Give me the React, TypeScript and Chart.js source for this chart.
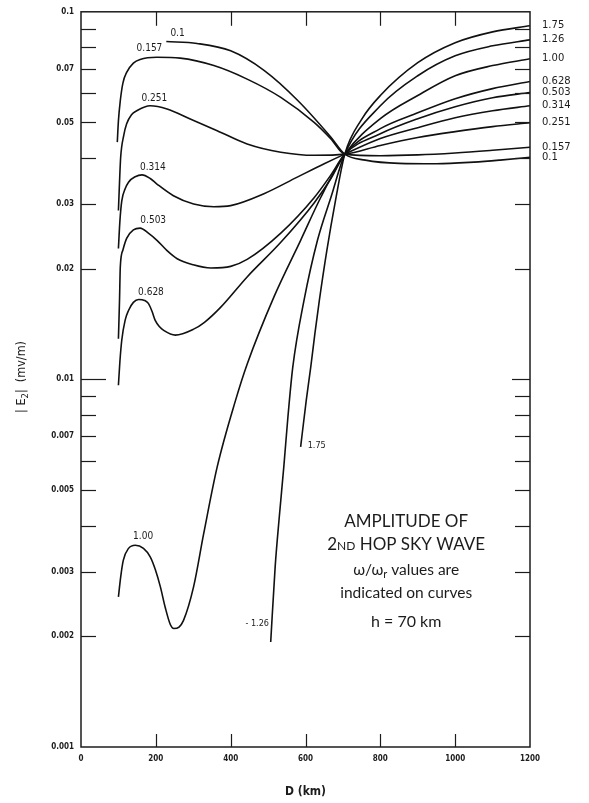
import React, { useEffect, useRef } from 'react';
import { Chart, registerables } from 'chart.js';

Chart.register(...registerables);

// ---- data (D in km, |E2| in mv/m) ----
const CURVE_NAMES = ['0.1', '0.157', '0.251', '0.314', '0.503', '0.628', '1.00', '1.26', '1.75'];

const d010 = [228, 310, 400, 490, 580, 668, 705, 760, 850, 950, 1050, 1120, 1200];
const e010 = [0.083, 0.082, 0.0783, 0.0692, 0.0573, 0.0456, 0.041, 0.0395, 0.0387, 0.0386, 0.039, 0.0395, 0.0402];

const d0157 = [97, 100, 105, 112, 122, 140, 158, 203, 265, 355, 444, 534, 623, 668, 705, 800, 900, 1000, 1100, 1200];
const e0157 = [0.0442, 0.0505, 0.0573, 0.064, 0.0684, 0.0725, 0.0742, 0.0752, 0.0748, 0.0714, 0.0656, 0.0585, 0.05, 0.0451, 0.041, 0.0406, 0.0408, 0.0413, 0.042, 0.0428];

const d0251 = [100, 103, 106, 114, 122, 135, 149, 185, 230, 292, 364, 444, 534, 623, 705, 800, 900, 1000, 1100, 1200];
const e0251 = [0.0288, 0.0345, 0.0402, 0.046, 0.0496, 0.0525, 0.0538, 0.0555, 0.0544, 0.0511, 0.0475, 0.0437, 0.0415, 0.0407, 0.041, 0.0433, 0.0455, 0.0472, 0.0487, 0.0499];

const d0314 = [100, 104, 109, 118, 127, 145, 163, 185, 203, 247, 301, 355, 400, 489, 578, 650, 705, 800, 900, 1000, 1100, 1200];
const e0314 = [0.0227, 0.027, 0.0306, 0.033, 0.0344, 0.0356, 0.036, 0.0352, 0.034, 0.0316, 0.03, 0.0295, 0.0297, 0.032, 0.0355, 0.0386, 0.041, 0.0452, 0.0484, 0.0515, 0.0538, 0.0555];

const d0503 = [100, 103, 105, 112, 122, 140, 158, 180, 203, 230, 257, 300, 347, 400, 444, 534, 623, 668, 705, 800, 900, 1000, 1100, 1200];
const e0503 = [0.0129, 0.0165, 0.0202, 0.0225, 0.0242, 0.0255, 0.0258, 0.025, 0.0239, 0.0224, 0.0213, 0.0205, 0.0201, 0.0203, 0.0212, 0.025, 0.0312, 0.036, 0.041, 0.0466, 0.0512, 0.0552, 0.0584, 0.0603];

const d0628 = [100, 104, 109, 118, 127, 140, 154, 170, 180, 190, 198, 210, 221, 252, 301, 330, 373, 444, 534, 623, 668, 705, 800, 900, 1000, 1100, 1200];
const e0628 = [0.00964, 0.0112, 0.0128, 0.0145, 0.0154, 0.0162, 0.0165, 0.0164, 0.0161, 0.0153, 0.0145, 0.0139, 0.0136, 0.0132, 0.0137, 0.0143, 0.0157, 0.019, 0.0236, 0.0302, 0.0352, 0.041, 0.0481, 0.0531, 0.058, 0.0618, 0.0646];

const d100 = [100, 106, 113, 127, 145, 167, 185, 199, 212, 225, 239, 248, 262, 274, 301, 328, 364, 413, 444, 516, 587, 641, 705, 800, 900, 1000, 1100, 1200];
const e100 = [0.00256, 0.0029, 0.00322, 0.00347, 0.00354, 0.00347, 0.00329, 0.00303, 0.00273, 0.0024, 0.00215, 0.0021, 0.00212, 0.00221, 0.00273, 0.00381, 0.00578, 0.00877, 0.011, 0.0168, 0.0239, 0.0313, 0.041, 0.0512, 0.0592, 0.067, 0.0714, 0.0745];

const d126 = [507, 519, 530, 542, 553, 566, 596, 632, 668, 705, 800, 900, 1000, 1100, 1200];
const e126 = [0.00193, 0.0031, 0.00423, 0.00578, 0.0079, 0.0108, 0.0164, 0.0239, 0.0313, 0.041, 0.0555, 0.067, 0.0759, 0.0808, 0.0839];

const d175 = [587, 602, 614, 625, 637, 657, 680, 705, 750, 800, 900, 1000, 1100, 1200];
const e175 = [0.00655, 0.00877, 0.0108, 0.0133, 0.0164, 0.0224, 0.0306, 0.041, 0.051, 0.0592, 0.0727, 0.0824, 0.0882, 0.0916];

const CURVE_D = [d010, d0157, d0251, d0314, d0503, d0628, d100, d126, d175];
const CURVE_E = [e010, e0157, e0251, e0314, e0503, e0628, e100, e126, e175];

// where the value name is written on the left part of each curve (data units)
const NAME_D = [258, 183, 196, 192, 193, 187, 166, 471, 630];
const NAME_E = [0.0871, 0.0793, 0.058, 0.0377, 0.027, 0.01726, 0.00373, 0.00217, 0.00662];

const Y_TICKS = [0.001, 0.002, 0.003, 0.004, 0.005, 0.006, 0.007, 0.008, 0.009, 0.01, 0.02, 0.03, 0.04, 0.05, 0.06, 0.07, 0.08, 0.09, 0.1];
const Y_LABELED = [0.001, 0.002, 0.003, 0.005, 0.007, 0.01, 0.02, 0.03, 0.05, 0.07, 0.1];
const Y_LABEL_TEXT = ['0.001', '0.002', '0.003', '0.005', '0.007', '0.01', '0.02', '0.03', '0.05', '0.07', '0.1'];
const X_TICKS = [0, 200, 400, 600, 800, 1000, 1200];

const INK = '#1c1c1c';
const COND = "'DejaVu Sans Condensed', 'DejaVu Sans', sans-serif";
const GOTHIC = "Lato, 'Noto Sans', sans-serif";

type Part = { t: string; size: number; dy?: number };

function drawParts(ctx: CanvasRenderingContext2D, parts: Part[], cx: number, baseline: number, family: string) {
  let total = 0;
  const widths = parts.map((p) => {
    ctx.font = `${p.size}px ${family}`;
    const w = ctx.measureText(p.t).width;
    total += w;
    return w;
  });
  let x = cx - total / 2;
  ctx.textAlign = 'left';
  ctx.textBaseline = 'alphabetic';
  parts.forEach((p, i) => {
    ctx.font = `${p.size}px ${family}`;
    ctx.fillText(p.t, x, baseline + (p.dy || 0));
    x += widths[i];
  });
}

const overlay = {
  id: 'overlay',
  afterDatasetsDraw(chart: any) {
    const { ctx, chartArea: a, scales } = chart;
    const xs = scales.x;
    const ys = scales.y;
    ctx.save();
    ctx.strokeStyle = INK;
    ctx.fillStyle = INK;
    ctx.lineWidth = 1.5;
    ctx.strokeRect(a.left, a.top, a.right - a.left, a.bottom - a.top);

    ctx.lineWidth = 1.2;
    const seg = (x1: number, y1: number, x2: number, y2: number) => {
      ctx.beginPath();
      ctx.moveTo(x1, y1);
      ctx.lineTo(x2, y2);
      ctx.stroke();
    };
    Y_TICKS.forEach((v) => {
      if (v <= 0.001 || v >= 0.1) return;
      const py = Math.round(ys.getPixelForValue(v)) + 0.5;
      const long = Math.abs(v - 0.01) < 1e-9;
      seg(a.left, py, a.left + (long ? 25 : 15), py);
      seg(a.right - (long ? 18 : 15), py, a.right, py);
    });
    X_TICKS.forEach((d) => {
      if (d <= 0 || d >= 1200) return;
      const px = Math.round(xs.getPixelForValue(d)) + 0.5;
      seg(px, a.top, px, a.top + 14);
      seg(px, a.bottom, px, a.bottom - 13);
    });

    // value names at right ends
    ctx.textAlign = 'left';
    ctx.textBaseline = 'middle';
    ctx.font = `10px 'DejaVu Sans', sans-serif`;
    CURVE_NAMES.forEach((name, i) => {
      const e = CURVE_E[i];
      const py = ys.getPixelForValue(e[e.length - 1]);
      ctx.fillText(name, a.right + 12, py);
    });

    // value names on the left part of the curves
    ctx.textAlign = 'center';
    CURVE_NAMES.forEach((name, i) => {
      const px = xs.getPixelForValue(NAME_D[i]);
      const py = ys.getPixelForValue(NAME_E[i]);
      const small = i >= 7;
      ctx.font = `${small ? 9 : 10}px ${COND}`;
      ctx.fillText(i === 7 ? '- ' + name : name, px, py);
    });

    // annotation block
    const cx = xs.getPixelForValue(869);
    drawParts(ctx, [{ t: 'AMPLITUDE OF', size: 17 }], cx, 527, GOTHIC);
    drawParts(ctx, [{ t: '2', size: 17 }, { t: 'ND', size: 12 }, { t: ' HOP SKY WAVE', size: 17 }], cx, 550, GOTHIC);
    drawParts(ctx, [{ t: 'ω/ω', size: 15.5 }, { t: 'r', size: 11, dy: 3 }, { t: ' values are', size: 15.5 }], cx, 575, GOTHIC);
    drawParts(ctx, [{ t: 'indicated on curves', size: 15.5 }], cx, 598, GOTHIC);
    drawParts(ctx, [{ t: 'h = 70 km', size: 16 }], cx, 627, GOTHIC);

    // axis titles
    ctx.textAlign = 'center';
    ctx.textBaseline = 'middle';
    ctx.font = `bold 12px ${COND}`;
    ctx.fillText('D (km)', (a.left + a.right) / 2, 792);

    ctx.save();
    ctx.translate(20, 377);
    ctx.rotate(-Math.PI / 2);
    const pieces: Part[] = [
      { t: '| E', size: 12.5 },
      { t: '2', size: 9.5, dy: 3 },
      { t: '|  (mv/m)', size: 12.5 },
    ];
    drawParts(ctx, pieces, 0, 4.5, `${COND}`);
    ctx.restore();

    ctx.restore();
  },
};

export default function App() {
  const ref = useRef<HTMLCanvasElement | null>(null);

  useEffect(() => {
    if (!ref.current) return;
    const datasets = CURVE_NAMES.map((name, i) => ({
      label: name,
      data: CURVE_D[i].map((d, j) => ({ x: d, y: CURVE_E[i][j] })),
      borderColor: '#111',
      borderWidth: 1.6,
      pointRadius: 0,
      fill: false,
      cubicInterpolationMode: 'monotone' as const,
    }));

    const chart = new Chart(ref.current, {
      type: 'line',
      data: { datasets },
      options: {
        animation: false,
        responsive: false,
        devicePixelRatio: 1,
        layout: { padding: { top: 11, right: 59, left: 0, bottom: 0 } },
        plugins: { legend: { display: false }, tooltip: { enabled: false } },
        scales: {
          x: {
            type: 'linear',
            min: 0,
            max: 1200,
            afterBuildTicks: (scale: any) => {
              scale.ticks = X_TICKS.map((v) => ({ value: v }));
            },
            afterFit: (scale: any) => {
              scale.height = 56;
            },
            grid: { display: false, drawTicks: false },
            border: { display: false },
            ticks: {
              autoSkip: false,
              maxRotation: 0,
              padding: 7,
              color: INK,
              font: { family: COND, size: 8, weight: 'bold' },
              callback: (v: any) => String(v),
            },
          },
          y: {
            type: 'logarithmic',
            min: 0.001,
            max: 0.1,
            afterBuildTicks: (scale: any) => {
              scale.ticks = Y_TICKS.map((v) => ({ value: v }));
            },
            afterFit: (scale: any) => {
              scale.width = 81;
            },
            grid: { display: false, drawTicks: false },
            border: { display: false },
            ticks: {
              autoSkip: false,
              padding: 7,
              color: INK,
              font: { family: COND, size: 8, weight: 'bold' },
              callback: (v: any) => {
                const k = Y_LABELED.findIndex((t) => Math.abs(t - Number(v)) / t < 1e-6);
                return k >= 0 ? Y_LABEL_TEXT[k] : '';
              },
            },
          },
        },
      },
      plugins: [overlay],
    });
    return () => chart.destroy();
  }, []);

  return (
    <div style={{ position: 'absolute', left: 0, top: 0, width: 589, height: 803, background: '#fff' }}>
      <canvas ref={ref} width={589} height={803} style={{ display: 'block', width: 589, height: 803 }} />
    </div>
  );
}
